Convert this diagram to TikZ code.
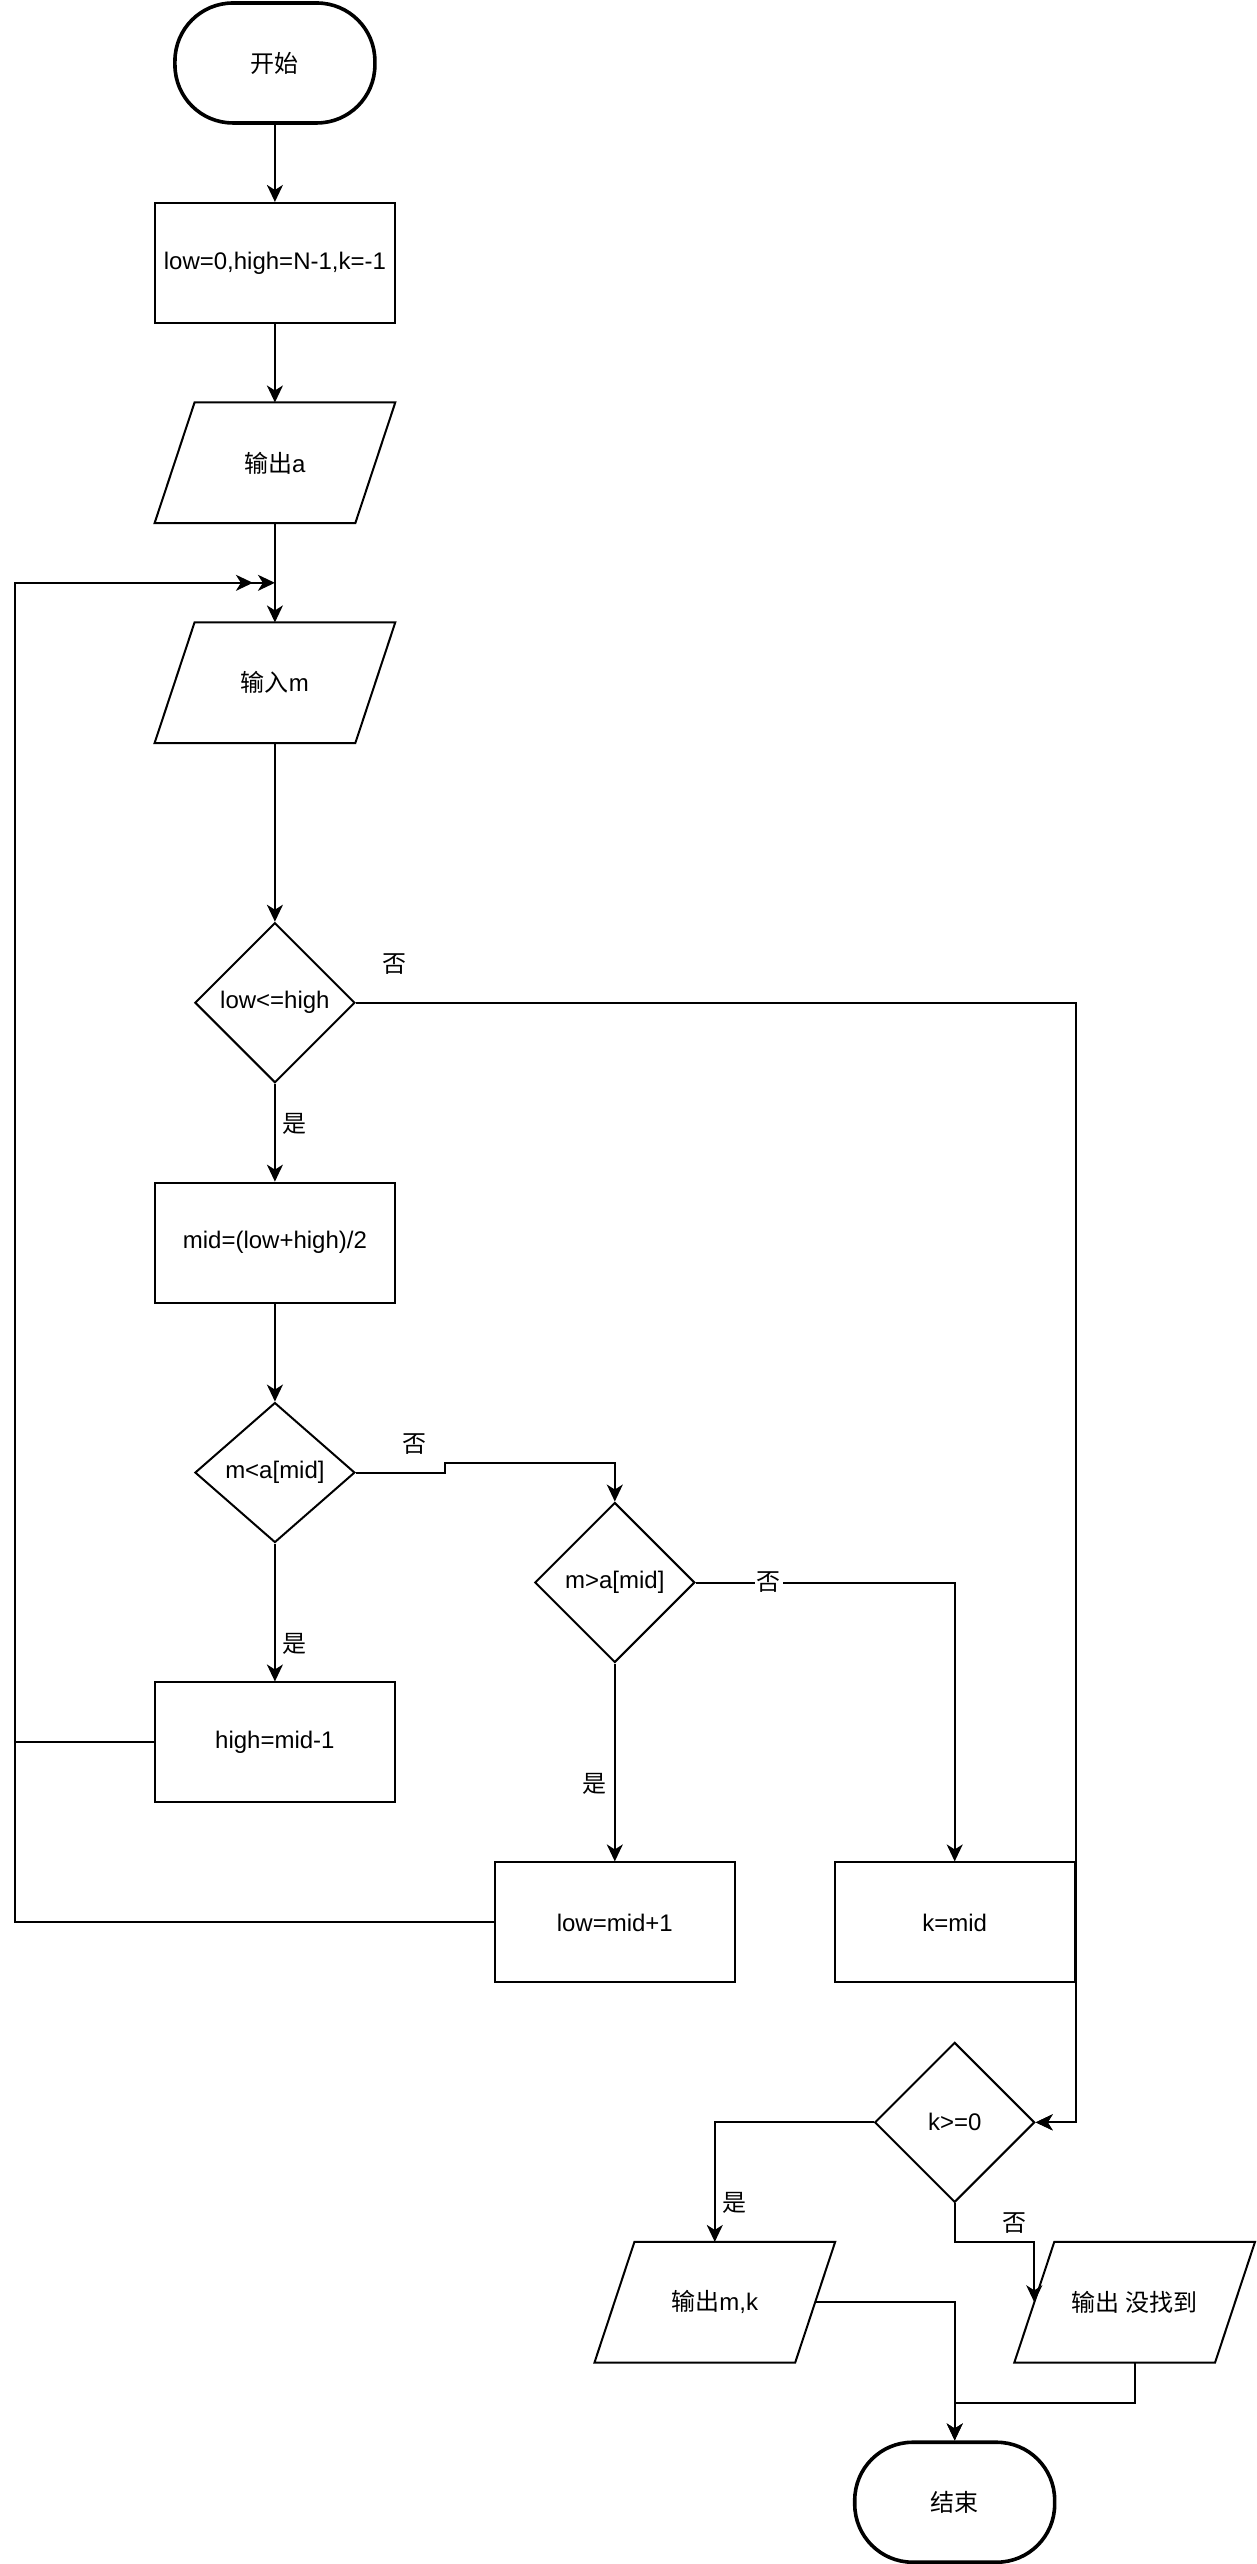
\documentclass[tikz,border=0pt]{standalone}
\usepackage{fontspec}
\setmainfont{Liberation Sans}
\newfontfamily\cjk{Noto Sans CJK SC}
\usepackage{tikz}
\usetikzlibrary{arrows.meta,shapes.geometric,calc}

\begin{document}
\begin{tikzpicture}[x=0.5pt, y=-0.5pt,
  every node/.style={font=\fontsize{12}{14}\selectfont},
  terminal/.style={draw, line width=1.8pt, rounded corners=29pt, minimum width=100pt, minimum height=60pt},
  process/.style={draw, line width=1pt, minimum width=120pt, minimum height=60pt, inner sep=2pt},
  iobox/.style={minimum width=100pt, minimum height=60pt, inner sep=2pt},
  decision/.style={draw, diamond, line width=1pt, inner sep=1pt, minimum width=80pt, minimum height=80pt},
  flow/.style={line width=1pt, -{Stealth[length=8.5pt, width=8pt, inset=2.5pt]}},
  answer/.style={inner sep=1pt}]
\path[fill=white] (0,0) rectangle (1256,2564);

% main column
\node[terminal] (start) at (275,63) {{\cjk 开始}};
\node[process] (init) at (275,263) {low=0,high=N-1,k=-1};
\node[iobox] (outa) at (275,463) {{\cjk 输出}a};
\node[iobox] (inm) at (275,683) {{\cjk 输入}m};
\node[decision] (cmp1) at (275,1003) {low<=high};
\node[process] (calcmid) at (275,1243) {mid=(low+high)/2};
\node[decision, minimum height=70pt] (cmp2) at (275,1473) {m<a[mid]};
\node[decision] (cmp3) at (615,1583) {m>a[mid]};
\node[process] (sethigh) at (275,1743) {high=mid-1};
\node[process] (setlow) at (615,1923) {low=mid+1};
\node[process] (setk) at (955,1923) {k=mid};
\node[decision] (cmp4) at (955,2123) {k>=0};
\node[iobox] (outmk) at (715,2303) {{\cjk 输出}m,k};
\node[iobox] (outnf) at (1135,2303) {{\cjk 输出 没找到}};
\node[terminal] (stop) at (955,2503) {{\cjk 结束}};

% parallelograms
\foreach \io in {outa,inm,outmk,outnf}
  \draw[line width=1pt] ([xshift=-10pt]\io.south west) -- ([xshift=10pt]\io.north west)
    -- ([xshift=10pt]\io.north east) -- ([xshift=-10pt]\io.south east) -- cycle;

\coordinate (join) at (275,583);
\coordinate (joinhigh) at ([xshift=-11pt]join);
\coordinate (loopL) at (15,583);
\coordinate (bend2) at (445,1463);

\draw[flow] (start) -- (init);
\draw[flow] (init) -- (outa);
\draw[flow] (outa) -- (inm);
\draw[flow] (inm) -- (cmp1);
\draw[flow] (cmp1) -- (calcmid);
\draw[flow] (calcmid) -- (cmp2);
\draw[flow] (cmp2) -- (sethigh);
\draw[flow] (cmp2.east) -| (bend2) -| (cmp3.north);
\draw[flow] (cmp3) -- (setlow);
\draw[flow] (cmp3.east) -| (setk.north);
\draw[flow] (cmp1.east) -| (setk.north east) |- (cmp4.east);
\draw[flow] (setk.east) |- (cmp4.east);
\draw[flow] (cmp4.west) -| (outmk.north);
\draw[flow] (cmp4.south) |- (outnf.west |- outnf.north) -- (outnf.west);
\draw[flow] (outmk.east) -| (stop.north);
\draw[flow] (outnf.south) -- ++(0,40) -| (stop.north);
% loop back
\draw[flow] (sethigh.west) -| (loopL) -- (joinhigh);
\draw[flow] (setlow.west) -| (loopL) -- (join);

% yes / no
\node[answer] (no1) at (395,964) {{\cjk 否}};
\node[answer] (yes1) at (295,1124) {{\cjk 是}};
\node[answer] (no2) at (415,1444) {{\cjk 否}};
\node[answer] (yes2) at (295,1644) {{\cjk 是}};
\node[answer, fill=white] (no3) at (769,1583) {{\cjk 否}};
\node[answer] (yes3) at (595,1784) {{\cjk 是}};
\node[answer] (yes4) at (735,2204) {{\cjk 是}};
\node[answer] (no4) at (1015,2224) {{\cjk 否}};
\end{tikzpicture}
\end{document}
